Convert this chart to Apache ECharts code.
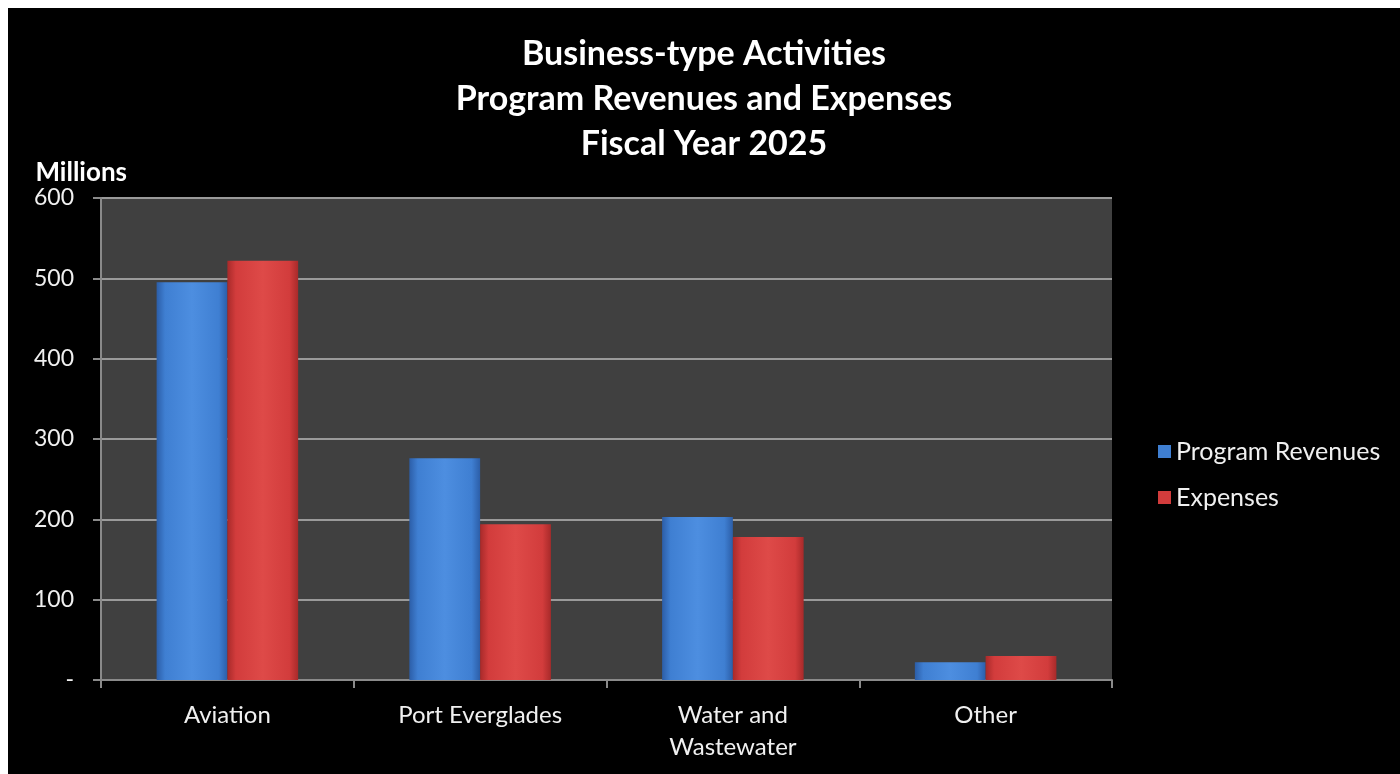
<!DOCTYPE html>
<html><head><meta charset="utf-8">
<script src="https://cdn.jsdelivr.net/npm/echarts@6/dist/echarts.min.js"></script>
<style>
html,body{margin:0;padding:0;background:#fff;width:1400px;height:774px;overflow:hidden}
#c{position:absolute;left:8px;top:8px;width:1392px;height:766px;}
</style></head><body><div id="c"></div>
<script>
const categories = ['Aviation', 'Port Everglades', 'Water and\nWastewater', 'Other'];
const programRevenues = [495, 276, 203, 22];
const expenses = [522, 194, 178, 30];
const yTicks = [0, 100, 200, 300, 400, 500, 600];
const titleLines = ['Business-type Activities', 'Program Revenues and Expenses', 'Fiscal Year 2025'];

const FONT = 'Lato';
function grad(light, mid, dark){
  return new echarts.graphic.LinearGradient(0,0,1,0,[
    {offset:0,color:dark},{offset:0.12,color:mid},{offset:0.5,color:light},{offset:0.88,color:mid},{offset:1,color:dark}]);
}
const chart = echarts.init(document.getElementById('c'));
chart.setOption({
  backgroundColor:'#000',
  animation:false,
  title:{text:titleLines.join('\n'), left:'center', top:19,
    textStyle:{color:'#fff', fontFamily:FONT, fontWeight:'bold', fontSize:34, lineHeight:45}},
  legend:{orient:'vertical', left:1145, top:426, itemGap:21, itemWidth:13, itemHeight:13,
    icon:'rect',
    textStyle:{color:'#f0f0f0', fontFamily:FONT, fontSize:25},
    data:[{name:'Program Revenues', itemStyle:{color:'#3f7fd2'}},{name:'Expenses', itemStyle:{color:'#d23c3c'}}]},
  grid:{left:93, right:288, top:190, bottom:94},
  xAxis:{type:'category', data:categories,
    axisLine:{lineStyle:{color:'#8a8a8a', width:2}},
    axisTick:{show:true, alignWithLabel:false, length:8, lineStyle:{color:'#8a8a8a', width:2}},
    axisLabel:{color:'#f0f0f0', fontFamily:FONT, fontSize:24, margin:19, lineHeight:32}},
  yAxis:{type:'value', min:0, max:600, interval:100,
    name:'Millions', nameLocation:'end', nameGap:12,
    nameTextStyle:{color:'#fff', fontFamily:FONT, fontWeight:'bold', fontSize:26, align:'right', padding:[0,-26,0,0]},
    axisLine:{show:true, lineStyle:{color:'#8a8a8a', width:2}},
    axisTick:{show:true, length:8, lineStyle:{color:'#8a8a8a', width:2}},
    splitLine:{lineStyle:{color:'#9a9a9a', width:2}},
    axisLabel:{color:'#f0f0f0', fontFamily:FONT, fontSize:23, margin:27,
      formatter:v=> v===0 ? '-' : String(v)}},
  series:[
    {name:'Program Revenues', type:'bar', data:programRevenues, barGap:'0%', barCategoryGap:'44%',
     itemStyle:{color:grad('#4d8ee0','#3f7fd2','#2c5ea8')}},
    {name:'Expenses', type:'bar', data:expenses,
     itemStyle:{color:grad('#de4a48','#d23c3c','#a82a2a')}}
  ],
  graphic:[{type:'rect', left:93, top:190, shape:{width:1011, height:482}, z:-1, style:{fill:'#404040'}}]
});
</script></body></html>
